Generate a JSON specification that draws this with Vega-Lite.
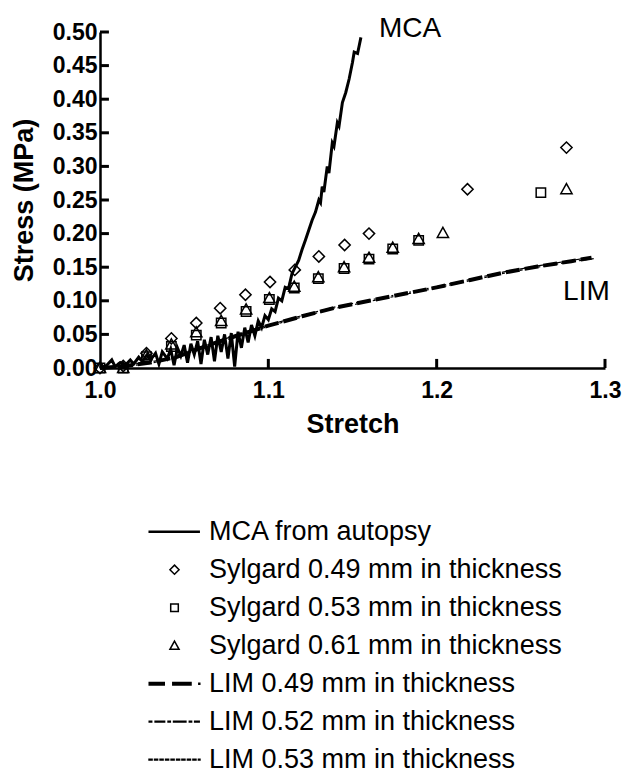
{
  "$schema": "https://vega.github.io/schema/vega-lite/v6.json",
  "width": 505,
  "height": 336,
  "autosize": {"type": "none"},
  "padding": {"left": 100, "top": 32, "right": 20, "bottom": 405},
  "background": "white",
  "config": {
    "view": {"stroke": null},
    "font": "Liberation Sans",
    "axis": {
      "grid": false,
      "domainColor": "black",
      "domainWidth": 2.5,
      "ticks": false,
      "labelColor": "black",
      "labelFont": "Liberation Sans",
      "labelFontWeight": "bold",
      "labelFontSize": 23,
      "labelOverlap": false,
      "labelFlush": false,
      "titleFont": "Liberation Sans",
      "titleFontWeight": "bold",
      "titleFontSize": 27,
      "titleColor": "black"
    }
  },
  "resolve": {"scale": {"x": "shared", "y": "shared"}, "axis": {"x": "independent", "y": "independent"}},
  "datasets": {
    "mca": [
      {"x": 1.000, "y": 0.000}, {"x": 1.004, "y": 0.004}, {"x": 1.007, "y": 0.012}, {"x": 1.009, "y": 0.002},
      {"x": 1.012, "y": 0.008}, {"x": 1.015, "y": 0.004}, {"x": 1.018, "y": 0.012}, {"x": 1.020, "y": 0.006},
      {"x": 1.023, "y": 0.016}, {"x": 1.025, "y": 0.010}, {"x": 1.028, "y": 0.020}, {"x": 1.030, "y": 0.012},
      {"x": 1.033, "y": 0.022}, {"x": 1.035, "y": 0.006}, {"x": 1.037, "y": 0.024}, {"x": 1.040, "y": 0.014},
      {"x": 1.042, "y": 0.028}, {"x": 1.044, "y": 0.004}, {"x": 1.046, "y": 0.030}, {"x": 1.048, "y": 0.018},
      {"x": 1.050, "y": 0.034}, {"x": 1.052, "y": 0.008}, {"x": 1.054, "y": 0.036}, {"x": 1.056, "y": 0.020},
      {"x": 1.058, "y": 0.040}, {"x": 1.060, "y": 0.006}, {"x": 1.062, "y": 0.042}, {"x": 1.064, "y": 0.020},
      {"x": 1.066, "y": 0.046}, {"x": 1.068, "y": 0.010}, {"x": 1.070, "y": 0.048}, {"x": 1.072, "y": 0.024},
      {"x": 1.074, "y": 0.050}, {"x": 1.076, "y": 0.014}, {"x": 1.078, "y": 0.052}, {"x": 1.080, "y": 0.002},
      {"x": 1.082, "y": 0.054}, {"x": 1.084, "y": 0.030}, {"x": 1.086, "y": 0.060}, {"x": 1.088, "y": 0.038},
      {"x": 1.090, "y": 0.064}, {"x": 1.092, "y": 0.048}, {"x": 1.094, "y": 0.070}, {"x": 1.096, "y": 0.060},
      {"x": 1.098, "y": 0.078}, {"x": 1.100, "y": 0.072}, {"x": 1.102, "y": 0.088}, {"x": 1.104, "y": 0.084},
      {"x": 1.106, "y": 0.104}, {"x": 1.108, "y": 0.100}, {"x": 1.110, "y": 0.120}, {"x": 1.112, "y": 0.118},
      {"x": 1.114, "y": 0.140}, {"x": 1.116, "y": 0.150}, {"x": 1.118, "y": 0.160}, {"x": 1.120, "y": 0.176},
      {"x": 1.122, "y": 0.190}, {"x": 1.124, "y": 0.205}, {"x": 1.126, "y": 0.220}, {"x": 1.128, "y": 0.232},
      {"x": 1.130, "y": 0.250}, {"x": 1.131, "y": 0.246}, {"x": 1.132, "y": 0.270}, {"x": 1.133, "y": 0.262},
      {"x": 1.135, "y": 0.300}, {"x": 1.136, "y": 0.290}, {"x": 1.138, "y": 0.335}, {"x": 1.139, "y": 0.330},
      {"x": 1.141, "y": 0.365}, {"x": 1.142, "y": 0.360}, {"x": 1.144, "y": 0.395}, {"x": 1.146, "y": 0.410},
      {"x": 1.148, "y": 0.430}, {"x": 1.150, "y": 0.455}, {"x": 1.151, "y": 0.470}, {"x": 1.153, "y": 0.468},
      {"x": 1.154, "y": 0.480}, {"x": 1.155, "y": 0.492}
    ],
    "sylgard": [
      {"series": "Sylgard 0.49 mm in thickness", "x": 1.0000, "y": 0.000},
      {"series": "Sylgard 0.49 mm in thickness", "x": 1.0138, "y": 0.003},
      {"series": "Sylgard 0.49 mm in thickness", "x": 1.0276, "y": 0.022},
      {"series": "Sylgard 0.49 mm in thickness", "x": 1.0424, "y": 0.044},
      {"series": "Sylgard 0.49 mm in thickness", "x": 1.0572, "y": 0.067},
      {"series": "Sylgard 0.49 mm in thickness", "x": 1.0714, "y": 0.089},
      {"series": "Sylgard 0.49 mm in thickness", "x": 1.0864, "y": 0.109},
      {"series": "Sylgard 0.49 mm in thickness", "x": 1.1010, "y": 0.128},
      {"series": "Sylgard 0.49 mm in thickness", "x": 1.1157, "y": 0.146},
      {"series": "Sylgard 0.49 mm in thickness", "x": 1.1300, "y": 0.166},
      {"series": "Sylgard 0.49 mm in thickness", "x": 1.1453, "y": 0.183},
      {"series": "Sylgard 0.49 mm in thickness", "x": 1.1598, "y": 0.200},
      {"series": "Sylgard 0.49 mm in thickness", "x": 1.2183, "y": 0.266},
      {"series": "Sylgard 0.49 mm in thickness", "x": 1.2771, "y": 0.328},
      {"series": "Sylgard 0.53 mm in thickness", "x": 1.0000, "y": 0.000},
      {"series": "Sylgard 0.53 mm in thickness", "x": 1.0138, "y": 0.000},
      {"series": "Sylgard 0.53 mm in thickness", "x": 1.0276, "y": 0.017},
      {"series": "Sylgard 0.53 mm in thickness", "x": 1.0424, "y": 0.032},
      {"series": "Sylgard 0.53 mm in thickness", "x": 1.0572, "y": 0.049},
      {"series": "Sylgard 0.53 mm in thickness", "x": 1.0720, "y": 0.067},
      {"series": "Sylgard 0.53 mm in thickness", "x": 1.0868, "y": 0.084},
      {"series": "Sylgard 0.53 mm in thickness", "x": 1.1006, "y": 0.102},
      {"series": "Sylgard 0.53 mm in thickness", "x": 1.1154, "y": 0.119},
      {"series": "Sylgard 0.53 mm in thickness", "x": 1.1297, "y": 0.133},
      {"series": "Sylgard 0.53 mm in thickness", "x": 1.1450, "y": 0.148},
      {"series": "Sylgard 0.53 mm in thickness", "x": 1.1598, "y": 0.162},
      {"series": "Sylgard 0.53 mm in thickness", "x": 1.1739, "y": 0.177},
      {"series": "Sylgard 0.53 mm in thickness", "x": 1.1893, "y": 0.190},
      {"series": "Sylgard 0.53 mm in thickness", "x": 1.2619, "y": 0.261},
      {"series": "Sylgard 0.61 mm in thickness", "x": 1.0000, "y": 0.000},
      {"series": "Sylgard 0.61 mm in thickness", "x": 1.0138, "y": 0.000},
      {"series": "Sylgard 0.61 mm in thickness", "x": 1.0276, "y": 0.019},
      {"series": "Sylgard 0.61 mm in thickness", "x": 1.0424, "y": 0.035},
      {"series": "Sylgard 0.61 mm in thickness", "x": 1.0572, "y": 0.053},
      {"series": "Sylgard 0.61 mm in thickness", "x": 1.0720, "y": 0.070},
      {"series": "Sylgard 0.61 mm in thickness", "x": 1.0868, "y": 0.087},
      {"series": "Sylgard 0.61 mm in thickness", "x": 1.1006, "y": 0.104},
      {"series": "Sylgard 0.61 mm in thickness", "x": 1.1154, "y": 0.121},
      {"series": "Sylgard 0.61 mm in thickness", "x": 1.1297, "y": 0.135},
      {"series": "Sylgard 0.61 mm in thickness", "x": 1.1450, "y": 0.150},
      {"series": "Sylgard 0.61 mm in thickness", "x": 1.1598, "y": 0.164},
      {"series": "Sylgard 0.61 mm in thickness", "x": 1.1739, "y": 0.179},
      {"series": "Sylgard 0.61 mm in thickness", "x": 1.1893, "y": 0.192},
      {"series": "Sylgard 0.61 mm in thickness", "x": 1.2037, "y": 0.201},
      {"series": "Sylgard 0.61 mm in thickness", "x": 1.2771, "y": 0.266}
    ],
    "lim": [
      {"series": "LIM 0.49 mm in thickness", "x": 1.000, "y": 0.000},
      {"series": "LIM 0.49 mm in thickness", "x": 1.015, "y": 0.003},
      {"series": "LIM 0.49 mm in thickness", "x": 1.030, "y": 0.008},
      {"series": "LIM 0.49 mm in thickness", "x": 1.045, "y": 0.016},
      {"series": "LIM 0.49 mm in thickness", "x": 1.060, "y": 0.030},
      {"series": "LIM 0.49 mm in thickness", "x": 1.075, "y": 0.043},
      {"series": "LIM 0.49 mm in thickness", "x": 1.090, "y": 0.055},
      {"series": "LIM 0.49 mm in thickness", "x": 1.100, "y": 0.063},
      {"series": "LIM 0.49 mm in thickness", "x": 1.120, "y": 0.077},
      {"series": "LIM 0.49 mm in thickness", "x": 1.140, "y": 0.090},
      {"series": "LIM 0.49 mm in thickness", "x": 1.160, "y": 0.100},
      {"series": "LIM 0.49 mm in thickness", "x": 1.180, "y": 0.110},
      {"series": "LIM 0.49 mm in thickness", "x": 1.200, "y": 0.120},
      {"series": "LIM 0.49 mm in thickness", "x": 1.220, "y": 0.131},
      {"series": "LIM 0.49 mm in thickness", "x": 1.240, "y": 0.142},
      {"series": "LIM 0.49 mm in thickness", "x": 1.260, "y": 0.151},
      {"series": "LIM 0.49 mm in thickness", "x": 1.280, "y": 0.159},
      {"series": "LIM 0.49 mm in thickness", "x": 1.292, "y": 0.164},
      {"series": "LIM 0.52 mm in thickness", "x": 1.000, "y": 0.000},
      {"series": "LIM 0.52 mm in thickness", "x": 1.015, "y": 0.004},
      {"series": "LIM 0.52 mm in thickness", "x": 1.030, "y": 0.009},
      {"series": "LIM 0.52 mm in thickness", "x": 1.045, "y": 0.017},
      {"series": "LIM 0.52 mm in thickness", "x": 1.060, "y": 0.031},
      {"series": "LIM 0.52 mm in thickness", "x": 1.075, "y": 0.044},
      {"series": "LIM 0.52 mm in thickness", "x": 1.090, "y": 0.056},
      {"series": "LIM 0.52 mm in thickness", "x": 1.100, "y": 0.064},
      {"series": "LIM 0.52 mm in thickness", "x": 1.120, "y": 0.078},
      {"series": "LIM 0.52 mm in thickness", "x": 1.140, "y": 0.091},
      {"series": "LIM 0.52 mm in thickness", "x": 1.160, "y": 0.101},
      {"series": "LIM 0.52 mm in thickness", "x": 1.180, "y": 0.111},
      {"series": "LIM 0.52 mm in thickness", "x": 1.200, "y": 0.121},
      {"series": "LIM 0.52 mm in thickness", "x": 1.220, "y": 0.132},
      {"series": "LIM 0.52 mm in thickness", "x": 1.240, "y": 0.143},
      {"series": "LIM 0.52 mm in thickness", "x": 1.260, "y": 0.152},
      {"series": "LIM 0.52 mm in thickness", "x": 1.280, "y": 0.160},
      {"series": "LIM 0.52 mm in thickness", "x": 1.290, "y": 0.164},
      {"series": "LIM 0.53 mm in thickness", "x": 1.000, "y": 0.000},
      {"series": "LIM 0.53 mm in thickness", "x": 1.015, "y": 0.002},
      {"series": "LIM 0.53 mm in thickness", "x": 1.030, "y": 0.007},
      {"series": "LIM 0.53 mm in thickness", "x": 1.045, "y": 0.015},
      {"series": "LIM 0.53 mm in thickness", "x": 1.060, "y": 0.029},
      {"series": "LIM 0.53 mm in thickness", "x": 1.075, "y": 0.042},
      {"series": "LIM 0.53 mm in thickness", "x": 1.090, "y": 0.054},
      {"series": "LIM 0.53 mm in thickness", "x": 1.100, "y": 0.062},
      {"series": "LIM 0.53 mm in thickness", "x": 1.120, "y": 0.076},
      {"series": "LIM 0.53 mm in thickness", "x": 1.140, "y": 0.089},
      {"series": "LIM 0.53 mm in thickness", "x": 1.160, "y": 0.099},
      {"series": "LIM 0.53 mm in thickness", "x": 1.180, "y": 0.109},
      {"series": "LIM 0.53 mm in thickness", "x": 1.200, "y": 0.119},
      {"series": "LIM 0.53 mm in thickness", "x": 1.220, "y": 0.130},
      {"series": "LIM 0.53 mm in thickness", "x": 1.240, "y": 0.141},
      {"series": "LIM 0.53 mm in thickness", "x": 1.260, "y": 0.150},
      {"series": "LIM 0.53 mm in thickness", "x": 1.280, "y": 0.158},
      {"series": "LIM 0.53 mm in thickness", "x": 1.294, "y": 0.163}
    ],
    "yticks": [
      {"v": 0.05}, {"v": 0.1}, {"v": 0.15}, {"v": 0.2}, {"v": 0.25},
      {"v": 0.3}, {"v": 0.35}, {"v": 0.4}, {"v": 0.45}, {"v": 0.5}
    ],
    "xticks": [
      {"v": 1.1}, {"v": 1.2}, {"v": 1.3}
    ],
    "labels": [
      {"x": 1.1657, "y": 0.4926, "label": "MCA"},
      {"x": 1.2751, "y": 0.101, "label": "LIM"}
    ]
  },
  "layer": [
    {
      "data": {"name": "lim"},
      "transform": [{"filter": "datum.series != 'LIM 0.49 mm in thickness'"}],
      "mark": {"type": "line", "color": "black", "strokeWidth": 1.2},
      "encoding": {
        "x": {"field": "x", "type": "quantitative", "scale": {"domain": [1.0, 1.3], "zero": false, "nice": false},
              "axis": {"orient": "bottom", "values": [1.0, 1.1, 1.2, 1.3], "format": ".1f", "labelPadding": 11, "labelOverlap": false, "labelFlush": false,
                       "title": "Stretch", "titleY": 64, "titleBaseline": "alphabetic"}},
        "y": {"field": "y", "type": "quantitative", "scale": {"domain": [0, 0.5], "nice": false},
              "axis": {"orient": "left", "values": [0, 0.05, 0.1, 0.15, 0.2, 0.25, 0.3, 0.35, 0.4, 0.45, 0.5], "format": ".2f", "labelPadding": 3, "labelOverlap": false,
                       "title": "Stress (MPa)", "titleX": -76, "titleY": 168, "titleAngle": 270, "titleAlign": "center", "titleBaseline": "middle"}},
        "detail": {"field": "series", "type": "nominal"},
        "strokeDash": {"field": "series", "type": "nominal", "legend": null,
                       "scale": {"domain": ["LIM 0.52 mm in thickness", "LIM 0.53 mm in thickness"],
                                 "range": [[10, 3, 2, 3], [3, 3]]}}
      }
    },
    {
      "data": {"name": "lim"},
      "transform": [{"filter": "datum.series == 'LIM 0.49 mm in thickness'"}],
      "mark": {"type": "line", "color": "black", "strokeWidth": 4, "strokeDash": [14, 5]},
      "encoding": {
        "x": {"field": "x", "type": "quantitative", "axis": null},
        "y": {"field": "y", "type": "quantitative", "axis": null}
      }
    },
    {
      "data": {"name": "mca"},
      "mark": {"type": "line", "color": "black", "strokeWidth": 3},
      "encoding": {
        "x": {"field": "x", "type": "quantitative", "axis": null},
        "y": {"field": "y", "type": "quantitative", "axis": null}
      }
    },
    {
      "data": {"name": "yticks"},
      "mark": {"type": "rule", "color": "black", "strokeWidth": 3},
      "encoding": {
        "x": {"datum": 1.0, "type": "quantitative", "axis": null},
        "x2": {"datum": 1.0053},
        "y": {"field": "v", "type": "quantitative", "axis": null}
      }
    },
    {
      "data": {"name": "xticks"},
      "mark": {"type": "rule", "color": "black", "strokeWidth": 3},
      "encoding": {
        "x": {"field": "v", "type": "quantitative", "axis": null},
        "y": {"datum": 0, "type": "quantitative", "axis": null},
        "y2": {"datum": 0.0135}
      }
    },
    {
      "data": {"name": "sylgard"},
      "mark": {"type": "point", "filled": false, "color": "black", "strokeWidth": 1.5, "size": 2200, "opacity": 1},
      "encoding": {
        "x": {"field": "x", "type": "quantitative", "axis": null},
        "y": {"field": "y", "type": "quantitative", "axis": null},
        "shape": {
          "field": "series", "type": "nominal",
          "scale": {
            "domain": ["MCA from autopsy", "Sylgard 0.49 mm in thickness", "Sylgard 0.53 mm in thickness", "Sylgard 0.61 mm in thickness", "LIM 0.49 mm in thickness", "LIM 0.52 mm in thickness", "LIM 0.53 mm in thickness"],
            "range": [
              "M-1.33,-0.03H1.3V0.03H-1.33Z",
              "M0,-0.24L0.24,0L0,0.24L-0.24,0Z",
              "M-0.2,-0.2H0.2V0.2H-0.2Z",
              "M0,-0.24L0.24,0.19H-0.24Z",
              "M-1.33,-0.068H-0.54V-0.005H-1.33ZM-1.33,0.005H-0.54V0.068H-1.33ZM-0.09,-0.068H0.87V-0.005H-0.09ZM-0.09,0.005H0.87V0.068H-0.09ZM1.28,-0.03H1.33V0.03H1.28Z",
              "M-1.33,-0.02H-1.2V0.02H-1.33ZM-1.02,-0.02H-0.52V0.02H-1.02ZM-0.34,-0.02H-0.22V0.02H-0.34ZM-0.05,-0.02H0.6V0.02H-0.05ZM0.78,-0.02H0.9V0.02H0.78ZM1.06,-0.02H1.3V0.02H1.06Z",
              "M-1.34,-0.02H-1.18V0.02H-1.34ZM-1.05,-0.02H-0.89V0.02H-1.05ZM-0.76,-0.02H-0.6V0.02H-0.76ZM-0.47,-0.02H-0.31V0.02H-0.47ZM-0.18,-0.02H-0.02V0.02H-0.18ZM0.11,-0.02H0.27V0.02H0.11ZM0.39,-0.02H0.55V0.02H0.39ZM0.68,-0.02H0.84V0.02H0.68ZM0.97,-0.02H1.13V0.02H0.97ZM1.26,-0.02H1.34V0.02H1.26Z"
            ]
          },
          "legend": {
            "title": null,
            "orient": "none",
            "legendX": 54.5,
            "legendY": 479.7,
            "padding": 0,
            "rowPadding": 5,
            "symbolSize": 1444,
            "symbolStrokeWidth": 1.5,
            "symbolStrokeColor": "black",
            "symbolFillColor": "transparent",
            "labelOffset": 14.5,
            "labelFont": "Liberation Sans",
            "labelFontSize": 27,
            "labelColor": "black",
            "labelLimit": 600
          }
        }
      }
    },
    {
      "data": {"name": "labels"},
      "mark": {"type": "text", "align": "left", "baseline": "alphabetic", "font": "Liberation Sans", "fontSize": 28, "color": "black"},
      "encoding": {
        "x": {"field": "x", "type": "quantitative", "axis": null},
        "y": {"field": "y", "type": "quantitative", "axis": null},
        "text": {"field": "label", "type": "nominal"}
      }
    }
  ]
}
